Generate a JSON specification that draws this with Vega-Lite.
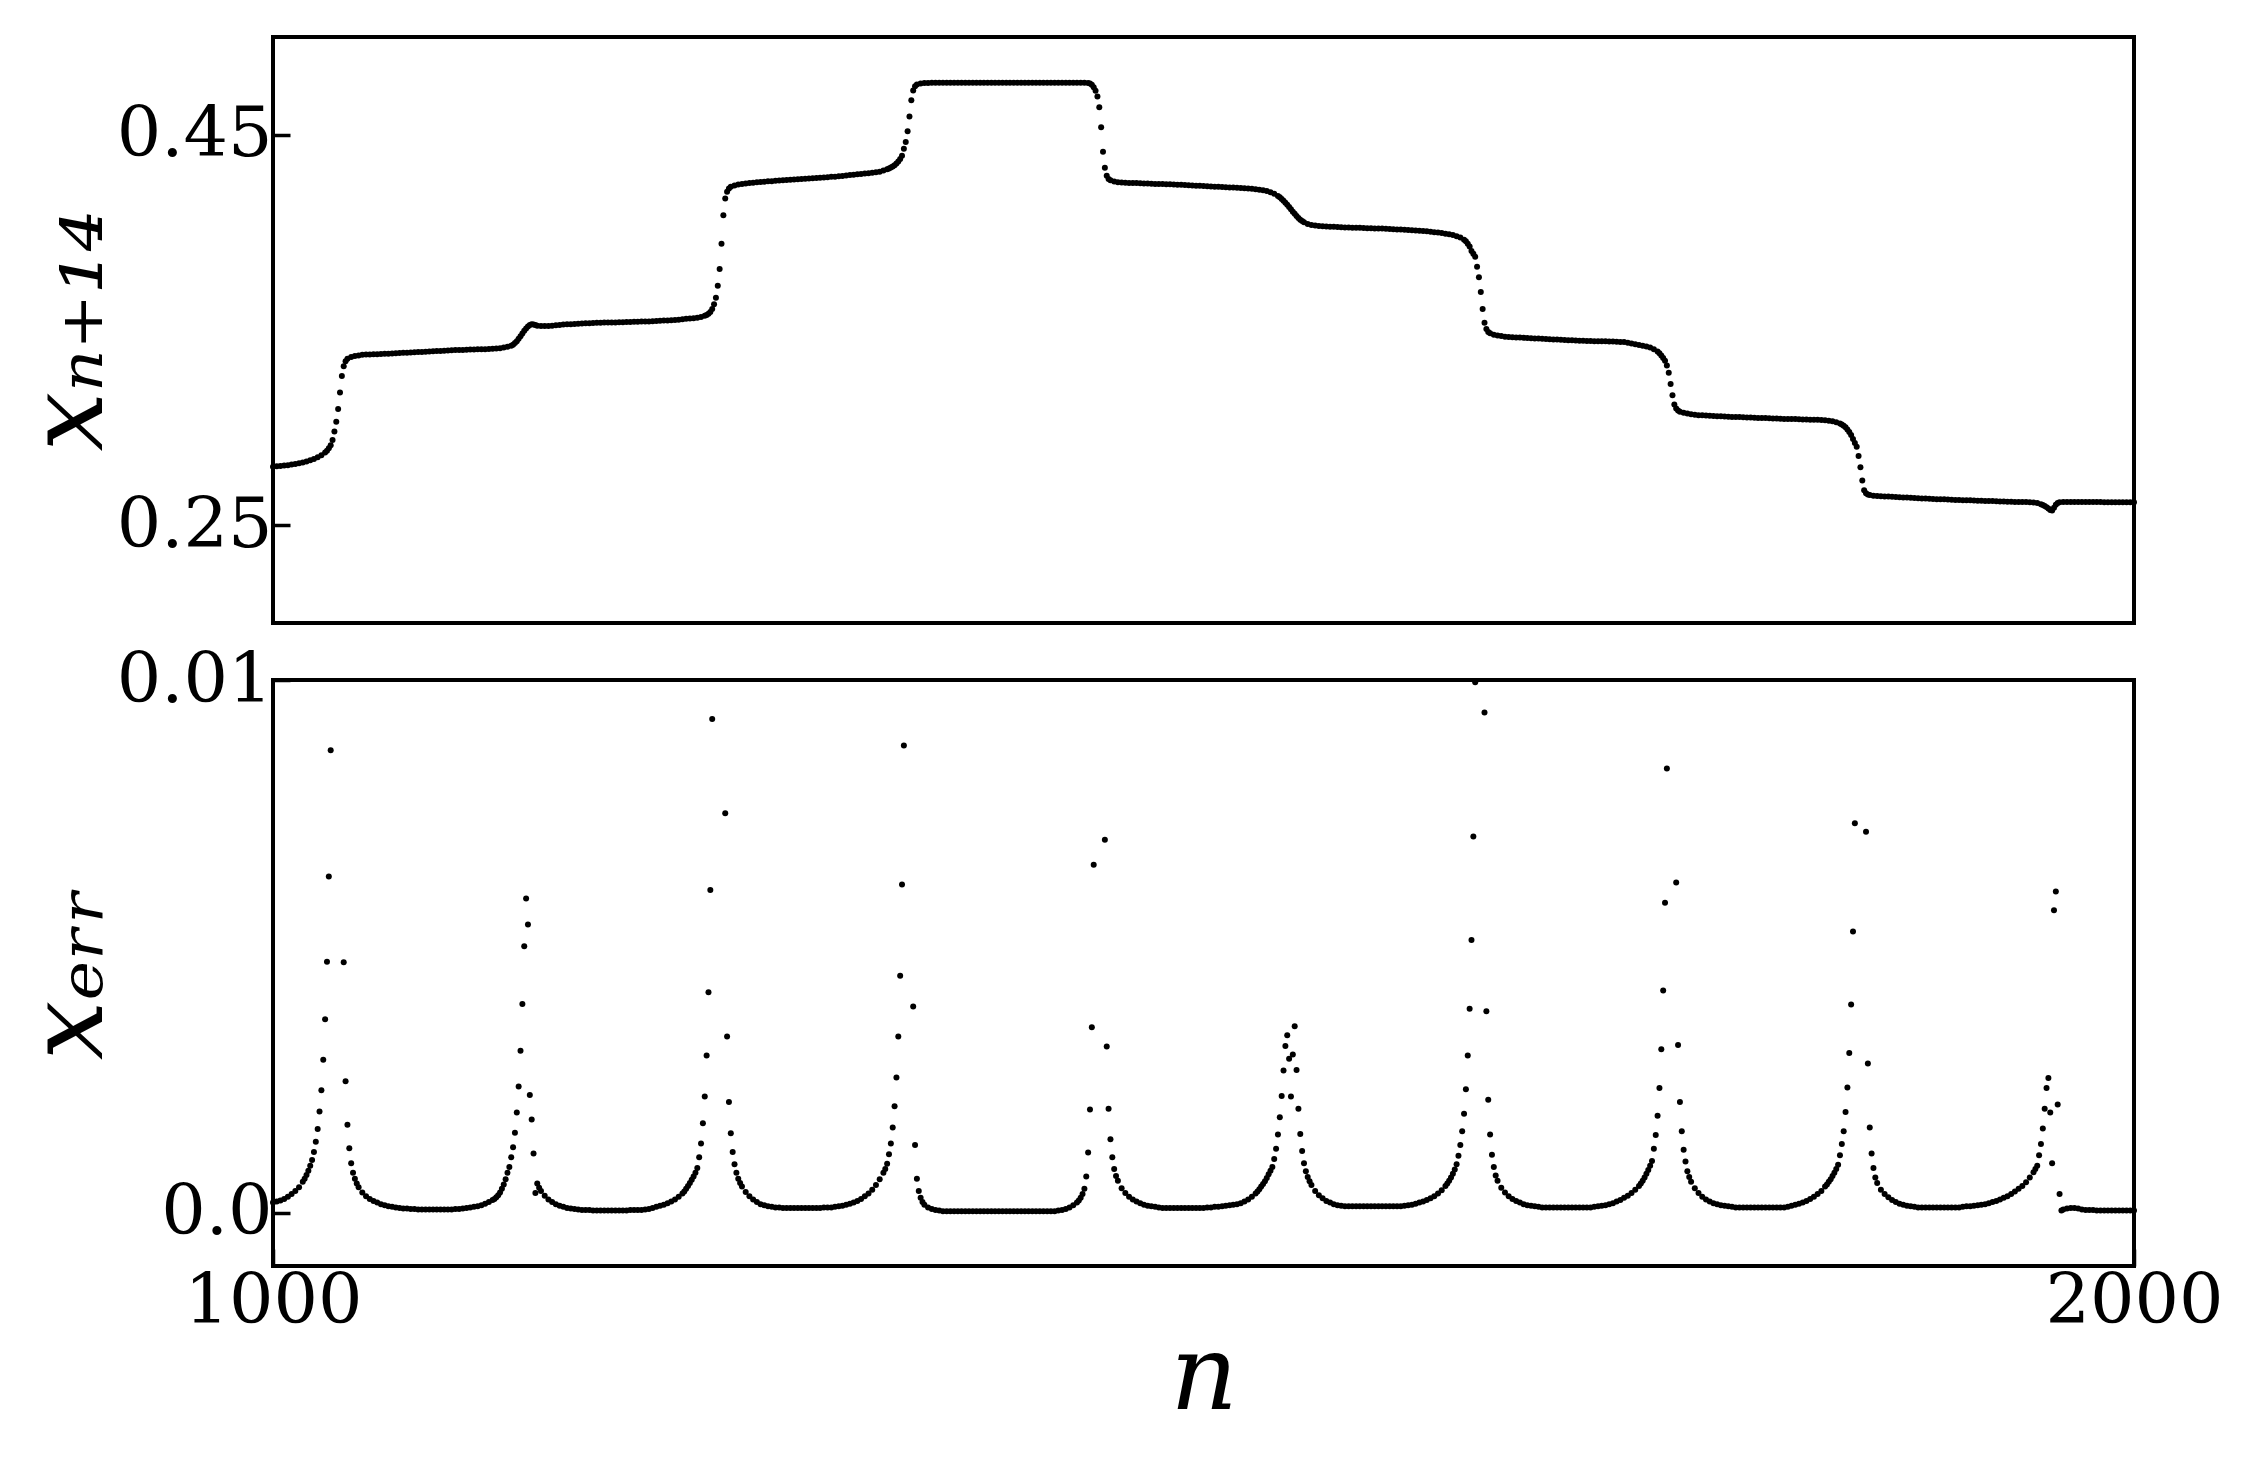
{
"$schema": "https://vega.github.io/schema/vega-lite/v6.json",
"background": "white",
"padding": {"left": 15, "top": 35, "right": 0, "bottom": 0},
"bounds": "flush",
"spacing": 57,
"datasets": {
"top": [
{"n":1000,"x":0.2800},{"n":1002,"x":0.2802},{"n":1004,"x":0.2804},{"n":1006,"x":0.2806},{"n":1008,"x":0.2808},{"n":1010,"x":0.2811},{"n":1012,"x":0.2814},{"n":1014,"x":0.2818},{"n":1016,"x":0.2822},{"n":1018,"x":0.2827},{"n":1020,"x":0.2833},{"n":1022,"x":0.2840},{"n":1024,"x":0.2848},{"n":1026,"x":0.2859},{"n":1028,"x":0.2873},{"n":1029,"x":0.2882},{"n":1030,"x":0.2894},{"n":1031,"x":0.2910},{"n":1032,"x":0.2937},{"n":1033,"x":0.2980},{"n":1034,"x":0.3030},{"n":1035,"x":0.3095},{"n":1036,"x":0.3180},{"n":1037,"x":0.3265},{"n":1038,"x":0.3315},{"n":1039,"x":0.3340},{"n":1040,"x":0.3353},{"n":1042,"x":0.3362},{"n":1044,"x":0.3367},{"n":1046,"x":0.3370},{"n":1048,"x":0.3373},{"n":1050,"x":0.3374},{"n":1052,"x":0.3375},{"n":1054,"x":0.3376},{"n":1056,"x":0.3376},{"n":1058,"x":0.3377},{"n":1060,"x":0.3378},{"n":1062,"x":0.3379},{"n":1064,"x":0.3380},{"n":1066,"x":0.3381},{"n":1068,"x":0.3382},{"n":1070,"x":0.3383},{"n":1072,"x":0.3384},{"n":1074,"x":0.3385},{"n":1076,"x":0.3386},{"n":1078,"x":0.3387},{"n":1080,"x":0.3388},{"n":1082,"x":0.3389},{"n":1084,"x":0.3390},{"n":1086,"x":0.3391},{"n":1088,"x":0.3392},{"n":1090,"x":0.3393},{"n":1092,"x":0.3394},{"n":1094,"x":0.3395},{"n":1096,"x":0.3396},{"n":1098,"x":0.3397},{"n":1100,"x":0.3398},{"n":1102,"x":0.3398},{"n":1104,"x":0.3399},{"n":1106,"x":0.3400},{"n":1108,"x":0.3400},{"n":1110,"x":0.3401},{"n":1112,"x":0.3402},{"n":1114,"x":0.3402},{"n":1116,"x":0.3403},{"n":1118,"x":0.3404},{"n":1120,"x":0.3405},{"n":1122,"x":0.3407},{"n":1124,"x":0.3410},{"n":1126,"x":0.3414},{"n":1128,"x":0.3420},{"n":1129,"x":0.3425},{"n":1130,"x":0.3433},{"n":1131,"x":0.3443},{"n":1132,"x":0.3455},{"n":1133,"x":0.3468},{"n":1134,"x":0.3482},{"n":1135,"x":0.3496},{"n":1136,"x":0.3508},{"n":1137,"x":0.3518},{"n":1138,"x":0.3525},{"n":1139,"x":0.3529},{"n":1140,"x":0.3528},{"n":1141,"x":0.3525},{"n":1142,"x":0.3522},{"n":1144,"x":0.3520},{"n":1146,"x":0.3520},{"n":1148,"x":0.3521},{"n":1150,"x":0.3522},{"n":1152,"x":0.3524},{"n":1154,"x":0.3526},{"n":1156,"x":0.3528},{"n":1158,"x":0.3529},{"n":1160,"x":0.3530},{"n":1162,"x":0.3531},{"n":1164,"x":0.3532},{"n":1166,"x":0.3533},{"n":1168,"x":0.3534},{"n":1170,"x":0.3535},{"n":1172,"x":0.3536},{"n":1174,"x":0.3537},{"n":1176,"x":0.3537},{"n":1178,"x":0.3538},{"n":1180,"x":0.3538},{"n":1182,"x":0.3539},{"n":1184,"x":0.3539},{"n":1186,"x":0.3540},{"n":1188,"x":0.3540},{"n":1190,"x":0.3541},{"n":1192,"x":0.3541},{"n":1194,"x":0.3542},{"n":1196,"x":0.3542},{"n":1198,"x":0.3543},{"n":1200,"x":0.3544},{"n":1202,"x":0.3544},{"n":1204,"x":0.3545},{"n":1206,"x":0.3546},{"n":1208,"x":0.3547},{"n":1210,"x":0.3548},{"n":1212,"x":0.3549},{"n":1214,"x":0.3550},{"n":1216,"x":0.3551},{"n":1218,"x":0.3553},{"n":1220,"x":0.3555},{"n":1222,"x":0.3557},{"n":1224,"x":0.3559},{"n":1226,"x":0.3560},{"n":1228,"x":0.3563},{"n":1230,"x":0.3567},{"n":1232,"x":0.3573},{"n":1233,"x":0.3577},{"n":1234,"x":0.3583},{"n":1235,"x":0.3592},{"n":1236,"x":0.3608},{"n":1237,"x":0.3632},{"n":1238,"x":0.3665},{"n":1239,"x":0.3727},{"n":1240,"x":0.3812},{"n":1241,"x":0.3942},{"n":1242,"x":0.4088},{"n":1243,"x":0.4173},{"n":1244,"x":0.4208},{"n":1245,"x":0.4225},{"n":1246,"x":0.4233},{"n":1248,"x":0.4240},{"n":1250,"x":0.4245},{"n":1252,"x":0.4248},{"n":1254,"x":0.4250},{"n":1256,"x":0.4252},{"n":1258,"x":0.4254},{"n":1260,"x":0.4256},{"n":1262,"x":0.4258},{"n":1264,"x":0.4259},{"n":1266,"x":0.4261},{"n":1268,"x":0.4262},{"n":1270,"x":0.4264},{"n":1272,"x":0.4265},{"n":1274,"x":0.4266},{"n":1276,"x":0.4268},{"n":1278,"x":0.4269},{"n":1280,"x":0.4270},{"n":1282,"x":0.4272},{"n":1284,"x":0.4273},{"n":1286,"x":0.4274},{"n":1288,"x":0.4276},{"n":1290,"x":0.4277},{"n":1292,"x":0.4278},{"n":1294,"x":0.4279},{"n":1296,"x":0.4281},{"n":1298,"x":0.4282},{"n":1300,"x":0.4284},{"n":1302,"x":0.4285},{"n":1304,"x":0.4287},{"n":1306,"x":0.4289},{"n":1308,"x":0.4291},{"n":1310,"x":0.4293},{"n":1312,"x":0.4295},{"n":1314,"x":0.4297},{"n":1316,"x":0.4299},{"n":1318,"x":0.4301},{"n":1320,"x":0.4303},{"n":1322,"x":0.4305},{"n":1324,"x":0.4307},{"n":1326,"x":0.4310},{"n":1328,"x":0.4316},{"n":1330,"x":0.4323},{"n":1331,"x":0.4327},{"n":1332,"x":0.4332},{"n":1333,"x":0.4337},{"n":1334,"x":0.4344},{"n":1335,"x":0.4352},{"n":1336,"x":0.4362},{"n":1337,"x":0.4375},{"n":1338,"x":0.4392},{"n":1339,"x":0.4428},{"n":1340,"x":0.4463},{"n":1341,"x":0.4517},{"n":1342,"x":0.4593},{"n":1343,"x":0.4676},{"n":1344,"x":0.4726},{"n":1345,"x":0.4748},{"n":1346,"x":0.4757},{"n":1348,"x":0.4762},{"n":1350,"x":0.4764},{"n":1352,"x":0.4765},{"n":1354,"x":0.4766},{"n":1356,"x":0.4766},{"n":1358,"x":0.4766},{"n":1360,"x":0.4766},{"n":1362,"x":0.4766},{"n":1364,"x":0.4766},{"n":1366,"x":0.4766},{"n":1368,"x":0.4766},{"n":1370,"x":0.4766},{"n":1372,"x":0.4766},{"n":1374,"x":0.4766},{"n":1376,"x":0.4766},{"n":1378,"x":0.4766},{"n":1380,"x":0.4766},{"n":1382,"x":0.4766},{"n":1384,"x":0.4766},{"n":1386,"x":0.4766},{"n":1388,"x":0.4766},{"n":1390,"x":0.4766},{"n":1392,"x":0.4766},{"n":1394,"x":0.4766},{"n":1396,"x":0.4766},{"n":1398,"x":0.4766},{"n":1400,"x":0.4766},{"n":1402,"x":0.4766},{"n":1404,"x":0.4766},{"n":1406,"x":0.4766},{"n":1408,"x":0.4766},{"n":1410,"x":0.4766},{"n":1412,"x":0.4766},{"n":1414,"x":0.4766},{"n":1416,"x":0.4766},{"n":1418,"x":0.4766},{"n":1420,"x":0.4766},{"n":1422,"x":0.4766},{"n":1424,"x":0.4766},{"n":1426,"x":0.4766},{"n":1428,"x":0.4766},{"n":1430,"x":0.4766},{"n":1432,"x":0.4766},{"n":1434,"x":0.4766},{"n":1436,"x":0.4766},{"n":1438,"x":0.4765},{"n":1439,"x":0.4762},{"n":1440,"x":0.4755},{"n":1441,"x":0.4743},{"n":1442,"x":0.4725},{"n":1443,"x":0.4696},{"n":1444,"x":0.4640},{"n":1445,"x":0.4538},{"n":1446,"x":0.4412},{"n":1447,"x":0.4330},{"n":1448,"x":0.4290},{"n":1449,"x":0.4273},{"n":1450,"x":0.4266},{"n":1452,"x":0.4260},{"n":1454,"x":0.4257},{"n":1456,"x":0.4255},{"n":1458,"x":0.4254},{"n":1460,"x":0.4253},{"n":1462,"x":0.4252},{"n":1464,"x":0.4252},{"n":1466,"x":0.4251},{"n":1468,"x":0.4250},{"n":1470,"x":0.4250},{"n":1472,"x":0.4249},{"n":1474,"x":0.4248},{"n":1476,"x":0.4248},{"n":1478,"x":0.4247},{"n":1480,"x":0.4246},{"n":1482,"x":0.4246},{"n":1484,"x":0.4245},{"n":1486,"x":0.4244},{"n":1488,"x":0.4243},{"n":1490,"x":0.4242},{"n":1492,"x":0.4241},{"n":1494,"x":0.4240},{"n":1496,"x":0.4239},{"n":1498,"x":0.4238},{"n":1500,"x":0.4237},{"n":1502,"x":0.4236},{"n":1504,"x":0.4235},{"n":1506,"x":0.4234},{"n":1508,"x":0.4233},{"n":1510,"x":0.4232},{"n":1512,"x":0.4231},{"n":1514,"x":0.4230},{"n":1516,"x":0.4229},{"n":1518,"x":0.4228},{"n":1520,"x":0.4227},{"n":1522,"x":0.4226},{"n":1524,"x":0.4225},{"n":1526,"x":0.4223},{"n":1528,"x":0.4221},{"n":1530,"x":0.4218},{"n":1532,"x":0.4215},{"n":1534,"x":0.4211},{"n":1536,"x":0.4205},{"n":1538,"x":0.4197},{"n":1540,"x":0.4186},{"n":1541,"x":0.4179},{"n":1542,"x":0.4171},{"n":1543,"x":0.4162},{"n":1544,"x":0.4152},{"n":1545,"x":0.4141},{"n":1546,"x":0.4130},{"n":1547,"x":0.4118},{"n":1548,"x":0.4106},{"n":1549,"x":0.4095},{"n":1550,"x":0.4084},{"n":1551,"x":0.4074},{"n":1552,"x":0.4065},{"n":1553,"x":0.4058},{"n":1554,"x":0.4052},{"n":1556,"x":0.4043},{"n":1558,"x":0.4038},{"n":1560,"x":0.4035},{"n":1562,"x":0.4033},{"n":1564,"x":0.4031},{"n":1566,"x":0.4030},{"n":1568,"x":0.4029},{"n":1570,"x":0.4028},{"n":1572,"x":0.4027},{"n":1574,"x":0.4026},{"n":1576,"x":0.4025},{"n":1578,"x":0.4025},{"n":1580,"x":0.4024},{"n":1582,"x":0.4023},{"n":1584,"x":0.4023},{"n":1586,"x":0.4022},{"n":1588,"x":0.4021},{"n":1590,"x":0.4021},{"n":1592,"x":0.4020},{"n":1594,"x":0.4019},{"n":1596,"x":0.4019},{"n":1598,"x":0.4018},{"n":1600,"x":0.4017},{"n":1602,"x":0.4016},{"n":1604,"x":0.4015},{"n":1606,"x":0.4014},{"n":1608,"x":0.4013},{"n":1610,"x":0.4012},{"n":1612,"x":0.4011},{"n":1614,"x":0.4010},{"n":1616,"x":0.4008},{"n":1618,"x":0.4007},{"n":1620,"x":0.4005},{"n":1622,"x":0.4003},{"n":1624,"x":0.4001},{"n":1626,"x":0.3999},{"n":1628,"x":0.3996},{"n":1630,"x":0.3993},{"n":1632,"x":0.3990},{"n":1634,"x":0.3986},{"n":1636,"x":0.3980},{"n":1638,"x":0.3973},{"n":1640,"x":0.3962},{"n":1641,"x":0.3954},{"n":1642,"x":0.3942},{"n":1643,"x":0.3928},{"n":1644,"x":0.3905},{"n":1645,"x":0.3890},{"n":1646,"x":0.3875},{"n":1647,"x":0.3824},{"n":1648,"x":0.3770},{"n":1649,"x":0.3695},{"n":1650,"x":0.3607},{"n":1651,"x":0.3537},{"n":1652,"x":0.3505},{"n":1653,"x":0.3490},{"n":1654,"x":0.3483},{"n":1656,"x":0.3476},{"n":1658,"x":0.3472},{"n":1660,"x":0.3469},{"n":1662,"x":0.3466},{"n":1664,"x":0.3464},{"n":1666,"x":0.3463},{"n":1668,"x":0.3462},{"n":1670,"x":0.3461},{"n":1672,"x":0.3460},{"n":1674,"x":0.3459},{"n":1676,"x":0.3458},{"n":1678,"x":0.3457},{"n":1680,"x":0.3456},{"n":1682,"x":0.3455},{"n":1684,"x":0.3454},{"n":1686,"x":0.3453},{"n":1688,"x":0.3452},{"n":1690,"x":0.3451},{"n":1692,"x":0.3450},{"n":1694,"x":0.3449},{"n":1696,"x":0.3448},{"n":1698,"x":0.3447},{"n":1700,"x":0.3446},{"n":1702,"x":0.3445},{"n":1704,"x":0.3445},{"n":1706,"x":0.3444},{"n":1708,"x":0.3444},{"n":1710,"x":0.3443},{"n":1712,"x":0.3443},{"n":1714,"x":0.3442},{"n":1716,"x":0.3442},{"n":1718,"x":0.3441},{"n":1720,"x":0.3441},{"n":1722,"x":0.3440},{"n":1724,"x":0.3439},{"n":1726,"x":0.3438},{"n":1728,"x":0.3435},{"n":1730,"x":0.3431},{"n":1732,"x":0.3427},{"n":1734,"x":0.3423},{"n":1736,"x":0.3419},{"n":1738,"x":0.3415},{"n":1740,"x":0.3410},{"n":1742,"x":0.3402},{"n":1744,"x":0.3390},{"n":1745,"x":0.3381},{"n":1746,"x":0.3370},{"n":1747,"x":0.3357},{"n":1748,"x":0.3342},{"n":1749,"x":0.3318},{"n":1750,"x":0.3281},{"n":1751,"x":0.3224},{"n":1752,"x":0.3166},{"n":1753,"x":0.3119},{"n":1754,"x":0.3098},{"n":1755,"x":0.3088},{"n":1756,"x":0.3082},{"n":1758,"x":0.3076},{"n":1760,"x":0.3072},{"n":1762,"x":0.3069},{"n":1764,"x":0.3066},{"n":1766,"x":0.3064},{"n":1768,"x":0.3063},{"n":1770,"x":0.3062},{"n":1772,"x":0.3061},{"n":1774,"x":0.3060},{"n":1776,"x":0.3059},{"n":1778,"x":0.3058},{"n":1780,"x":0.3057},{"n":1782,"x":0.3056},{"n":1784,"x":0.3055},{"n":1786,"x":0.3055},{"n":1788,"x":0.3054},{"n":1790,"x":0.3053},{"n":1792,"x":0.3052},{"n":1794,"x":0.3052},{"n":1796,"x":0.3051},{"n":1798,"x":0.3050},{"n":1800,"x":0.3049},{"n":1802,"x":0.3049},{"n":1804,"x":0.3048},{"n":1806,"x":0.3047},{"n":1808,"x":0.3047},{"n":1810,"x":0.3046},{"n":1812,"x":0.3045},{"n":1814,"x":0.3045},{"n":1816,"x":0.3044},{"n":1818,"x":0.3044},{"n":1820,"x":0.3043},{"n":1822,"x":0.3042},{"n":1824,"x":0.3042},{"n":1826,"x":0.3041},{"n":1828,"x":0.3041},{"n":1830,"x":0.3040},{"n":1832,"x":0.3039},{"n":1834,"x":0.3038},{"n":1836,"x":0.3036},{"n":1838,"x":0.3033},{"n":1840,"x":0.3028},{"n":1842,"x":0.3021},{"n":1843,"x":0.3016},{"n":1844,"x":0.3010},{"n":1845,"x":0.3002},{"n":1846,"x":0.2990},{"n":1847,"x":0.2978},{"n":1848,"x":0.2962},{"n":1849,"x":0.2942},{"n":1850,"x":0.2922},{"n":1851,"x":0.2902},{"n":1852,"x":0.2855},{"n":1853,"x":0.2797},{"n":1854,"x":0.2730},{"n":1855,"x":0.2679},{"n":1856,"x":0.2664},{"n":1857,"x":0.2658},{"n":1858,"x":0.2655},{"n":1860,"x":0.2652},{"n":1862,"x":0.2650},{"n":1864,"x":0.2649},{"n":1866,"x":0.2648},{"n":1868,"x":0.2647},{"n":1870,"x":0.2646},{"n":1872,"x":0.2645},{"n":1874,"x":0.2644},{"n":1876,"x":0.2643},{"n":1878,"x":0.2642},{"n":1880,"x":0.2641},{"n":1882,"x":0.2640},{"n":1884,"x":0.2639},{"n":1886,"x":0.2638},{"n":1888,"x":0.2637},{"n":1890,"x":0.2636},{"n":1892,"x":0.2635},{"n":1894,"x":0.2634},{"n":1896,"x":0.2633},{"n":1898,"x":0.2633},{"n":1900,"x":0.2632},{"n":1902,"x":0.2631},{"n":1904,"x":0.2630},{"n":1906,"x":0.2630},{"n":1908,"x":0.2629},{"n":1910,"x":0.2628},{"n":1912,"x":0.2628},{"n":1914,"x":0.2627},{"n":1916,"x":0.2626},{"n":1918,"x":0.2626},{"n":1920,"x":0.2625},{"n":1922,"x":0.2624},{"n":1924,"x":0.2624},{"n":1926,"x":0.2623},{"n":1928,"x":0.2622},{"n":1930,"x":0.2622},{"n":1932,"x":0.2621},{"n":1934,"x":0.2621},{"n":1936,"x":0.2620},{"n":1938,"x":0.2620},{"n":1940,"x":0.2619},{"n":1942,"x":0.2619},{"n":1944,"x":0.2618},{"n":1946,"x":0.2617},{"n":1948,"x":0.2614},{"n":1950,"x":0.2608},{"n":1951,"x":0.2604},{"n":1952,"x":0.2599},{"n":1953,"x":0.2593},{"n":1954,"x":0.2586},{"n":1955,"x":0.2579},{"n":1956,"x":0.2576},{"n":1957,"x":0.2590},{"n":1958,"x":0.2606},{"n":1959,"x":0.2614},{"n":1960,"x":0.2618},{"n":1962,"x":0.2620},{"n":1964,"x":0.2620},{"n":1966,"x":0.2620},{"n":1968,"x":0.2620},{"n":1970,"x":0.2620},{"n":1972,"x":0.2619},{"n":1974,"x":0.2619},{"n":1976,"x":0.2619},{"n":1978,"x":0.2619},{"n":1980,"x":0.2619},{"n":1982,"x":0.2619},{"n":1984,"x":0.2618},{"n":1986,"x":0.2618},{"n":1988,"x":0.2618},{"n":1990,"x":0.2618},{"n":1992,"x":0.2618},{"n":1994,"x":0.2618},{"n":1996,"x":0.2618},{"n":1998,"x":0.2618},{"n":2000,"x":0.2618}
],
"err": [
{"n":1000,"e":0.00019},{"n":1002,"e":0.00021},{"n":1004,"e":0.00023},{"n":1006,"e":0.00026},{"n":1008,"e":0.00030},{"n":1010,"e":0.00035},{"n":1012,"e":0.00041},{"n":1014,"e":0.00048},{"n":1016,"e":0.00058},{"n":1017,"e":0.00064},{"n":1018,"e":0.00071},{"n":1019,"e":0.00079},{"n":1020,"e":0.00088},{"n":1021,"e":0.00099},{"n":1022,"e":0.00114},{"n":1023,"e":0.00133},{"n":1024,"e":0.00157},{"n":1025,"e":0.00190},{"n":1026,"e":0.00230},{"n":1027,"e":0.00287},{"n":1028,"e":0.00363},{"n":1029,"e":0.00471},{"n":1030,"e":0.00631},{"n":1031,"e":0.00868},
{"n":1038,"e":0.00470},{"n":1039,"e":0.00247},{"n":1040,"e":0.00165},{"n":1041,"e":0.00121},{"n":1042,"e":0.00093},{"n":1043,"e":0.00075},{"n":1044,"e":0.00064},{"n":1045,"e":0.00055},{"n":1046,"e":0.00048},{"n":1048,"e":0.00038},{"n":1050,"e":0.00031},{"n":1052,"e":0.00026},{"n":1054,"e":0.00022},{"n":1056,"e":0.00019},{"n":1058,"e":0.00016},{"n":1060,"e":0.00014},{"n":1062,"e":0.00012},{"n":1064,"e":0.00011},{"n":1066,"e":0.00010},{"n":1068,"e":0.00009},{"n":1070,"e":0.00008},{"n":1072,"e":0.00008},{"n":1074,"e":0.00007},{"n":1076,"e":0.00007},{"n":1078,"e":0.00006},{"n":1080,"e":0.00006},{"n":1082,"e":0.00006},{"n":1084,"e":0.00006},{"n":1086,"e":0.00006},{"n":1088,"e":0.00006},{"n":1090,"e":0.00006},{"n":1092,"e":0.00006},{"n":1094,"e":0.00006},{"n":1096,"e":0.00006},{"n":1098,"e":0.00007},{"n":1100,"e":0.00007},{"n":1102,"e":0.00008},{"n":1104,"e":0.00009},{"n":1106,"e":0.00010},{"n":1108,"e":0.00011},{"n":1110,"e":0.00012},{"n":1112,"e":0.00014},{"n":1114,"e":0.00017},{"n":1116,"e":0.00020},{"n":1118,"e":0.00024},{"n":1119,"e":0.00026},{"n":1120,"e":0.00029},{"n":1121,"e":0.00033},{"n":1122,"e":0.00038},{"n":1123,"e":0.00045},{"n":1124,"e":0.00053},{"n":1125,"e":0.00063},{"n":1126,"e":0.00075},{"n":1127,"e":0.00086},{"n":1128,"e":0.00104},{"n":1129,"e":0.00123},{"n":1130,"e":0.00150},{"n":1131,"e":0.00188},{"n":1132,"e":0.00237},{"n":1133,"e":0.00304},{"n":1134,"e":0.00392},{"n":1135,"e":0.00500},{"n":1136,"e":0.00590},{"n":1137,"e":0.00541},{"n":1138,"e":0.00221},{"n":1139,"e":0.00175},{"n":1140,"e":0.00111},{"n":1141,"e":0.00037},{"n":1142,"e":0.00055},{"n":1143,"e":0.00047},{"n":1144,"e":0.00041},{"n":1146,"e":0.00032},{"n":1148,"e":0.00025},{"n":1150,"e":0.00020},{"n":1152,"e":0.00016},{"n":1154,"e":0.00013},{"n":1156,"e":0.00011},{"n":1158,"e":0.00009},{"n":1160,"e":0.00008},{"n":1162,"e":0.00007},{"n":1164,"e":0.00006},{"n":1166,"e":0.00005},{"n":1168,"e":0.00005},{"n":1170,"e":0.00005},{"n":1172,"e":0.00004},{"n":1174,"e":0.00004},{"n":1176,"e":0.00004},{"n":1178,"e":0.00004},{"n":1180,"e":0.00004},{"n":1182,"e":0.00004},{"n":1184,"e":0.00004},{"n":1186,"e":0.00004},{"n":1188,"e":0.00004},{"n":1190,"e":0.00004},{"n":1192,"e":0.00005},{"n":1194,"e":0.00005},{"n":1196,"e":0.00005},{"n":1198,"e":0.00005},{"n":1200,"e":0.00006},{"n":1202,"e":0.00007},{"n":1204,"e":0.00009},{"n":1206,"e":0.00011},{"n":1208,"e":0.00013},{"n":1210,"e":0.00015},{"n":1212,"e":0.00018},{"n":1214,"e":0.00021},{"n":1216,"e":0.00025},{"n":1218,"e":0.00030},{"n":1220,"e":0.00036},{"n":1221,"e":0.00040},{"n":1222,"e":0.00045},{"n":1223,"e":0.00050},{"n":1224,"e":0.00056},{"n":1225,"e":0.00062},{"n":1226,"e":0.00068},{"n":1227,"e":0.00075},{"n":1228,"e":0.00084},{"n":1229,"e":0.00104},{"n":1230,"e":0.00130},{"n":1231,"e":0.00168},{"n":1232,"e":0.00218},{"n":1233,"e":0.00295},{"n":1234,"e":0.00414},{"n":1235,"e":0.00606},{"n":1236,"e":0.00927},
{"n":1243,"e":0.00750},{"n":1244,"e":0.00331},{"n":1245,"e":0.00208},{"n":1246,"e":0.00149},{"n":1247,"e":0.00114},{"n":1248,"e":0.00091},{"n":1249,"e":0.00075},{"n":1250,"e":0.00064},{"n":1251,"e":0.00056},{"n":1252,"e":0.00049},{"n":1254,"e":0.00039},{"n":1256,"e":0.00031},{"n":1258,"e":0.00025},{"n":1260,"e":0.00020},{"n":1262,"e":0.00016},{"n":1264,"e":0.00014},{"n":1266,"e":0.00012},{"n":1268,"e":0.00011},{"n":1270,"e":0.00010},{"n":1272,"e":0.00010},{"n":1274,"e":0.00009},{"n":1276,"e":0.00009},{"n":1278,"e":0.00009},{"n":1280,"e":0.00009},{"n":1282,"e":0.00009},{"n":1284,"e":0.00009},{"n":1286,"e":0.00009},{"n":1288,"e":0.00009},{"n":1290,"e":0.00009},{"n":1292,"e":0.00009},{"n":1294,"e":0.00009},{"n":1296,"e":0.00010},{"n":1298,"e":0.00010},{"n":1300,"e":0.00010},{"n":1302,"e":0.00011},{"n":1304,"e":0.00012},{"n":1306,"e":0.00013},{"n":1308,"e":0.00015},{"n":1310,"e":0.00017},{"n":1312,"e":0.00019},{"n":1314,"e":0.00022},{"n":1316,"e":0.00026},{"n":1318,"e":0.00031},{"n":1320,"e":0.00036},{"n":1322,"e":0.00043},{"n":1324,"e":0.00052},{"n":1326,"e":0.00063},{"n":1328,"e":0.00075},{"n":1329,"e":0.00082},{"n":1330,"e":0.00092},{"n":1331,"e":0.00110},{"n":1332,"e":0.00130},{"n":1333,"e":0.00160},{"n":1334,"e":0.00200},{"n":1335,"e":0.00254},{"n":1336,"e":0.00331},{"n":1337,"e":0.00445},{"n":1338,"e":0.00616},{"n":1339,"e":0.00877},
{"n":1344,"e":0.00387},{"n":1345,"e":0.00127},{"n":1346,"e":0.00064},{"n":1347,"e":0.00041},{"n":1348,"e":0.00028},{"n":1349,"e":0.00020},{"n":1350,"e":0.00015},{"n":1352,"e":0.00010},{"n":1354,"e":0.00007},{"n":1356,"e":0.00005},{"n":1358,"e":0.00004},{"n":1360,"e":0.00003},{"n":1362,"e":0.00003},{"n":1364,"e":0.00003},{"n":1366,"e":0.00003},{"n":1368,"e":0.00003},{"n":1370,"e":0.00003},{"n":1372,"e":0.00003},{"n":1374,"e":0.00003},{"n":1376,"e":0.00003},{"n":1378,"e":0.00003},{"n":1380,"e":0.00003},{"n":1382,"e":0.00003},{"n":1384,"e":0.00003},{"n":1386,"e":0.00003},{"n":1388,"e":0.00003},{"n":1390,"e":0.00003},{"n":1392,"e":0.00003},{"n":1394,"e":0.00003},{"n":1396,"e":0.00003},{"n":1398,"e":0.00003},{"n":1400,"e":0.00003},{"n":1402,"e":0.00003},{"n":1404,"e":0.00003},{"n":1406,"e":0.00003},{"n":1408,"e":0.00003},{"n":1410,"e":0.00003},{"n":1412,"e":0.00003},{"n":1414,"e":0.00003},{"n":1416,"e":0.00003},{"n":1418,"e":0.00003},{"n":1420,"e":0.00003},{"n":1422,"e":0.00004},{"n":1424,"e":0.00005},{"n":1426,"e":0.00007},{"n":1428,"e":0.00010},{"n":1430,"e":0.00014},{"n":1432,"e":0.00019},{"n":1433,"e":0.00023},{"n":1434,"e":0.00028},{"n":1435,"e":0.00035},{"n":1436,"e":0.00045},{"n":1437,"e":0.00068},{"n":1438,"e":0.00113},{"n":1439,"e":0.00194},{"n":1440,"e":0.00348},{"n":1441,"e":0.00653},
{"n":1447,"e":0.00700},{"n":1448,"e":0.00312},{"n":1449,"e":0.00195},{"n":1450,"e":0.00138},{"n":1451,"e":0.00104},{"n":1452,"e":0.00082},{"n":1453,"e":0.00069},{"n":1454,"e":0.00060},{"n":1456,"e":0.00046},{"n":1458,"e":0.00037},{"n":1460,"e":0.00030},{"n":1462,"e":0.00025},{"n":1464,"e":0.00021},{"n":1466,"e":0.00018},{"n":1468,"e":0.00015},{"n":1470,"e":0.00013},{"n":1472,"e":0.00012},{"n":1474,"e":0.00011},{"n":1476,"e":0.00010},{"n":1478,"e":0.00009},{"n":1480,"e":0.00009},{"n":1482,"e":0.00009},{"n":1484,"e":0.00009},{"n":1486,"e":0.00009},{"n":1488,"e":0.00009},{"n":1490,"e":0.00009},{"n":1492,"e":0.00009},{"n":1494,"e":0.00009},{"n":1496,"e":0.00009},{"n":1498,"e":0.00009},{"n":1500,"e":0.00009},{"n":1502,"e":0.00010},{"n":1504,"e":0.00010},{"n":1506,"e":0.00011},{"n":1508,"e":0.00011},{"n":1510,"e":0.00012},{"n":1512,"e":0.00013},{"n":1514,"e":0.00014},{"n":1516,"e":0.00015},{"n":1518,"e":0.00016},{"n":1520,"e":0.00018},{"n":1522,"e":0.00021},{"n":1524,"e":0.00025},{"n":1526,"e":0.00030},{"n":1528,"e":0.00036},{"n":1529,"e":0.00040},{"n":1530,"e":0.00044},{"n":1531,"e":0.00049},{"n":1532,"e":0.00054},{"n":1533,"e":0.00059},{"n":1534,"e":0.00065},{"n":1535,"e":0.00072},{"n":1536,"e":0.00079},{"n":1537,"e":0.00086},{"n":1538,"e":0.00101},{"n":1539,"e":0.00120},{"n":1540,"e":0.00147},{"n":1541,"e":0.00179},{"n":1542,"e":0.00219},{"n":1543,"e":0.00267},{"n":1544,"e":0.00313},{"n":1545,"e":0.00333},{"n":1546,"e":0.00289},{"n":1547,"e":0.00218},{"n":1548,"e":0.00297},{"n":1549,"e":0.00350},{"n":1550,"e":0.00268},{"n":1551,"e":0.00195},{"n":1552,"e":0.00148},{"n":1553,"e":0.00116},{"n":1554,"e":0.00093},{"n":1555,"e":0.00078},{"n":1556,"e":0.00067},{"n":1557,"e":0.00059},{"n":1558,"e":0.00052},{"n":1560,"e":0.00041},{"n":1562,"e":0.00033},{"n":1564,"e":0.00027},{"n":1566,"e":0.00022},{"n":1568,"e":0.00019},{"n":1570,"e":0.00016},{"n":1572,"e":0.00014},{"n":1574,"e":0.00013},{"n":1576,"e":0.00012},{"n":1578,"e":0.00012},{"n":1580,"e":0.00012},{"n":1582,"e":0.00012},{"n":1584,"e":0.00012},{"n":1586,"e":0.00012},{"n":1588,"e":0.00012},{"n":1590,"e":0.00012},{"n":1592,"e":0.00012},{"n":1594,"e":0.00012},{"n":1596,"e":0.00012},{"n":1598,"e":0.00012},{"n":1600,"e":0.00012},{"n":1602,"e":0.00012},{"n":1604,"e":0.00012},{"n":1606,"e":0.00012},{"n":1608,"e":0.00013},{"n":1610,"e":0.00014},{"n":1612,"e":0.00015},{"n":1614,"e":0.00017},{"n":1616,"e":0.00019},{"n":1618,"e":0.00021},{"n":1620,"e":0.00024},{"n":1622,"e":0.00027},{"n":1624,"e":0.00031},{"n":1626,"e":0.00036},{"n":1628,"e":0.00042},{"n":1630,"e":0.00050},{"n":1631,"e":0.00055},{"n":1632,"e":0.00060},{"n":1633,"e":0.00066},{"n":1634,"e":0.00073},{"n":1635,"e":0.00081},{"n":1636,"e":0.00091},{"n":1637,"e":0.00107},{"n":1638,"e":0.00127},{"n":1639,"e":0.00153},{"n":1640,"e":0.00186},{"n":1641,"e":0.00232},{"n":1642,"e":0.00295},{"n":1643,"e":0.00383},{"n":1644,"e":0.00512},{"n":1645,"e":0.00706},{"n":1646,"e":0.00996},
{"n":1651,"e":0.00939},{"n":1652,"e":0.00378},{"n":1653,"e":0.00212},{"n":1654,"e":0.00147},{"n":1655,"e":0.00109},{"n":1656,"e":0.00086},{"n":1657,"e":0.00070},{"n":1658,"e":0.00060},{"n":1660,"e":0.00047},{"n":1662,"e":0.00038},{"n":1664,"e":0.00031},{"n":1666,"e":0.00026},{"n":1668,"e":0.00022},{"n":1670,"e":0.00019},{"n":1672,"e":0.00016},{"n":1674,"e":0.00014},{"n":1676,"e":0.00013},{"n":1678,"e":0.00012},{"n":1680,"e":0.00011},{"n":1682,"e":0.00010},{"n":1684,"e":0.00010},{"n":1686,"e":0.00010},{"n":1688,"e":0.00010},{"n":1690,"e":0.00010},{"n":1692,"e":0.00010},{"n":1694,"e":0.00010},{"n":1696,"e":0.00010},{"n":1698,"e":0.00010},{"n":1700,"e":0.00010},{"n":1702,"e":0.00010},{"n":1704,"e":0.00010},{"n":1706,"e":0.00010},{"n":1708,"e":0.00010},{"n":1710,"e":0.00011},{"n":1712,"e":0.00012},{"n":1714,"e":0.00013},{"n":1716,"e":0.00014},{"n":1718,"e":0.00016},{"n":1720,"e":0.00018},{"n":1722,"e":0.00021},{"n":1724,"e":0.00024},{"n":1726,"e":0.00028},{"n":1728,"e":0.00032},{"n":1730,"e":0.00037},{"n":1732,"e":0.00043},{"n":1734,"e":0.00050},{"n":1735,"e":0.00055},{"n":1736,"e":0.00060},{"n":1737,"e":0.00066},{"n":1738,"e":0.00073},{"n":1739,"e":0.00080},{"n":1740,"e":0.00088},{"n":1741,"e":0.00097},{"n":1742,"e":0.00120},{"n":1743,"e":0.00146},{"n":1744,"e":0.00182},{"n":1745,"e":0.00234},{"n":1746,"e":0.00307},{"n":1747,"e":0.00417},{"n":1748,"e":0.00582},{"n":1749,"e":0.00834},
{"n":1754,"e":0.00620},{"n":1755,"e":0.00315},{"n":1756,"e":0.00208},{"n":1757,"e":0.00153},{"n":1758,"e":0.00118},{"n":1759,"e":0.00096},{"n":1760,"e":0.00078},{"n":1761,"e":0.00067},{"n":1762,"e":0.00058},{"n":1764,"e":0.00046},{"n":1766,"e":0.00037},{"n":1768,"e":0.00030},{"n":1770,"e":0.00025},{"n":1772,"e":0.00021},{"n":1774,"e":0.00018},{"n":1776,"e":0.00016},{"n":1778,"e":0.00014},{"n":1780,"e":0.00013},{"n":1782,"e":0.00012},{"n":1784,"e":0.00011},{"n":1786,"e":0.00010},{"n":1788,"e":0.00010},{"n":1790,"e":0.00010},{"n":1792,"e":0.00010},{"n":1794,"e":0.00010},{"n":1796,"e":0.00010},{"n":1798,"e":0.00010},{"n":1800,"e":0.00010},{"n":1802,"e":0.00010},{"n":1804,"e":0.00010},{"n":1806,"e":0.00010},{"n":1808,"e":0.00010},{"n":1810,"e":0.00010},{"n":1812,"e":0.00010},{"n":1814,"e":0.00011},{"n":1816,"e":0.00013},{"n":1818,"e":0.00015},{"n":1820,"e":0.00017},{"n":1822,"e":0.00019},{"n":1824,"e":0.00022},{"n":1826,"e":0.00026},{"n":1828,"e":0.00030},{"n":1830,"e":0.00035},{"n":1832,"e":0.00041},{"n":1834,"e":0.00049},{"n":1835,"e":0.00053},{"n":1836,"e":0.00058},{"n":1837,"e":0.00063},{"n":1838,"e":0.00069},{"n":1839,"e":0.00075},{"n":1840,"e":0.00082},{"n":1841,"e":0.00090},{"n":1842,"e":0.00108},{"n":1843,"e":0.00129},{"n":1844,"e":0.00153},{"n":1845,"e":0.00189},{"n":1846,"e":0.00235},{"n":1847,"e":0.00300},{"n":1848,"e":0.00391},{"n":1849,"e":0.00528},{"n":1850,"e":0.00731},
{"n":1856,"e":0.00715},{"n":1857,"e":0.00280},{"n":1858,"e":0.00160},{"n":1859,"e":0.00111},{"n":1860,"e":0.00084},{"n":1861,"e":0.00066},{"n":1862,"e":0.00056},{"n":1864,"e":0.00043},{"n":1866,"e":0.00035},{"n":1868,"e":0.00029},{"n":1870,"e":0.00024},{"n":1872,"e":0.00020},{"n":1874,"e":0.00017},{"n":1876,"e":0.00015},{"n":1878,"e":0.00013},{"n":1880,"e":0.00012},{"n":1882,"e":0.00011},{"n":1884,"e":0.00010},{"n":1886,"e":0.00010},{"n":1888,"e":0.00010},{"n":1890,"e":0.00010},{"n":1892,"e":0.00010},{"n":1894,"e":0.00010},{"n":1896,"e":0.00010},{"n":1898,"e":0.00010},{"n":1900,"e":0.00010},{"n":1902,"e":0.00010},{"n":1904,"e":0.00010},{"n":1906,"e":0.00010},{"n":1908,"e":0.00011},{"n":1910,"e":0.00012},{"n":1912,"e":0.00012},{"n":1914,"e":0.00013},{"n":1916,"e":0.00014},{"n":1918,"e":0.00015},{"n":1920,"e":0.00016},{"n":1922,"e":0.00018},{"n":1924,"e":0.00020},{"n":1926,"e":0.00022},{"n":1928,"e":0.00025},{"n":1930,"e":0.00028},{"n":1932,"e":0.00031},{"n":1934,"e":0.00035},{"n":1936,"e":0.00040},{"n":1938,"e":0.00045},{"n":1940,"e":0.00050},{"n":1942,"e":0.00057},{"n":1944,"e":0.00066},{"n":1946,"e":0.00076},{"n":1947,"e":0.00082},{"n":1948,"e":0.00088},{"n":1949,"e":0.00108},{"n":1950,"e":0.00129},{"n":1951,"e":0.00158},{"n":1952,"e":0.00195},{"n":1953,"e":0.00234},{"n":1954,"e":0.00253},{"n":1955,"e":0.00188},{"n":1956,"e":0.00093},{"n":1957,"e":0.00568},{"n":1958,"e":0.00603},{"n":1959,"e":0.00203},{"n":1960,"e":0.00035},{"n":1961,"e":0.00004},{"n":1962,"e":0.00006},{"n":1964,"e":0.00008},{"n":1966,"e":0.00009},{"n":1968,"e":0.00009},{"n":1970,"e":0.00008},{"n":1972,"e":0.00006},{"n":1974,"e":0.00005},{"n":1976,"e":0.00005},{"n":1978,"e":0.00005},{"n":1980,"e":0.00004},{"n":1982,"e":0.00004},{"n":1984,"e":0.00004},{"n":1986,"e":0.00004},{"n":1988,"e":0.00004},{"n":1990,"e":0.00004},{"n":1992,"e":0.00004},{"n":1994,"e":0.00004},{"n":1996,"e":0.00004},{"n":1998,"e":0.00004},{"n":2000,"e":0.00004}
]
},
"vconcat": [
{
"width": 1861, "height": 586,
"data": {"name": "top"},
"mark": {"type": "circle", "size": 36, "color": "black", "opacity": 1, "strokeWidth": 0},
"encoding": {
"x": {"field": "n", "type": "quantitative", "scale": {"domain": [1000, 2000], "nice": false, "zero": false}, "axis": null},
"y": {"field": "x", "type": "quantitative", "scale": {"domain": [0.2, 0.5], "nice": false, "zero": false}, "axis": {"values": [0.25, 0.45], "format": ".2f", "title": "xₙ₊₁₄"}}
}
},
{
"width": 1861, "height": 586,
"data": {"name": "err"},
"mark": {"type": "circle", "size": 36, "color": "black", "opacity": 1, "strokeWidth": 0},
"encoding": {
"x": {"field": "n", "type": "quantitative", "scale": {"domain": [1000, 2000], "nice": false, "zero": false}, "axis": {"values": [1000, 2000], "format": "d", "labelFlush": false, "title": "n", "titlePadding": -11}},
"y": {"field": "e", "type": "quantitative", "scale": {"domain": [-0.001, 0.01], "nice": false, "zero": false}, "axis": {"values": [0, 0.01], "labelExpr": "datum.value == 0 ? '0.0' : '0.01'", "title": "xₑᵣᵣ"}}
}
}
],
"config": {
"view": {"stroke": "black", "strokeWidth": 4},
"axis": {"grid": false, "domain": false, "labelFont": "DejaVu Serif", "labelFontSize": 70, "labelColor": "black", "ticks": true, "tickColor": "black", "tickWidth": 3.5, "tickSize": -17, "labelPadding": 18, "titleFont": "DejaVu Serif", "titleFontSize": 105, "titleFontStyle": "italic", "titleFontWeight": "normal", "titleColor": "black", "titlePadding": -7}
}
}
